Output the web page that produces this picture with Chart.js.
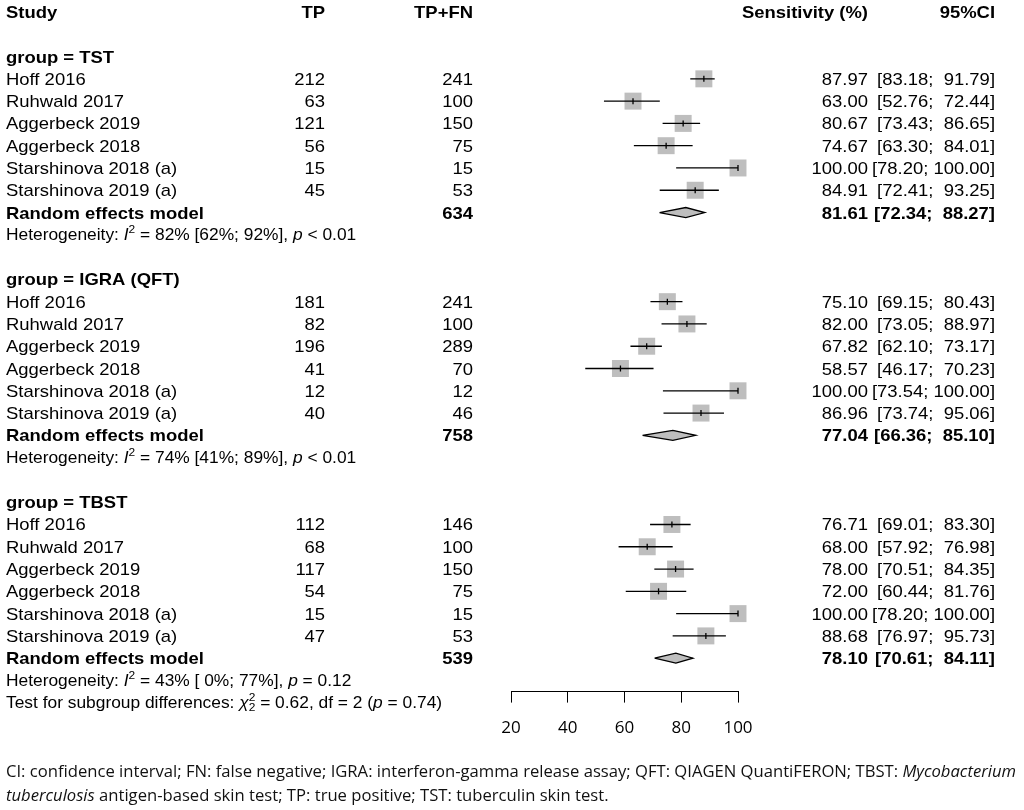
<!DOCTYPE html>
<html>
<head>
<meta charset="utf-8">
<script src="https://cdn.jsdelivr.net/npm/chart.js@4.4.0/dist/chart.umd.min.js"></script>
<style>
  html, body { margin: 0; padding: 0; background: #fff; }
  #wrap { width: 1024px; height: 810px; position: relative; }
</style>
</head>
<body>
<div id="wrap"><canvas id="forest"></canvas></div>
<script>
// ---- data ----
const groups = ["TST", "IGRA (QFT)", "TBST"];
const studies = ["Hoff 2016", "Ruhwald 2017", "Aggerbeck 2019", "Aggerbeck 2018",
  "Starshinova 2018 (a)", "Starshinova 2019 (a)"];
const tp = [[212, 63, 121, 56, 15, 45], [181, 82, 196, 41, 12, 40], [112, 68, 117, 54, 15, 47]];
const total = [[241, 100, 150, 75, 15, 53], [241, 100, 289, 70, 12, 46], [146, 100, 150, 75, 15, 53]];
const sens = [[87.97, 63.00, 80.67, 74.67, 100.00, 84.91],
  [75.10, 82.00, 67.82, 58.57, 100.00, 86.96],
  [76.71, 68.00, 78.00, 72.00, 100.00, 88.68]];
const lower = [[83.18, 52.76, 73.43, 63.30, 78.20, 72.41],
  [69.15, 73.05, 62.10, 46.17, 73.54, 73.74],
  [69.01, 57.92, 70.51, 60.44, 78.20, 76.97]];
const upper = [[91.79, 72.44, 86.65, 84.01, 100.00, 93.25],
  [80.43, 88.97, 73.17, 70.23, 100.00, 95.06],
  [83.30, 76.98, 84.35, 81.76, 100.00, 95.73]];
const pooled = [81.61, 77.04, 78.10];
const pooledLo = [72.34, 66.36, 70.61];
const pooledHi = [88.27, 85.10, 84.11];
const pooledN = [634, 758, 539];
const hetI2 = ["82%", "74%", "43%"];
const hetCI = ["[62%; 92%]", "[41%; 89%]", "[ 0%; 77%]"];
const hetP = ["< 0.01", "< 0.01", "= 0.12"];
const subgroupQ = "0.62", subgroupDf = "2", subgroupP = "0.74";
const xTicks = [20, 40, 60, 80, 100];

// row index of each piece (0 = header line)
const groupRow = g => 2 + 10 * g;
const studyRow = (g, i) => groupRow(g) + 1 + i;
const poolRow = g => groupRow(g) + 7;
const hetRow = g => groupRow(g) + 8;
const testRow = 31;

// ---- datasets ----
const ciLine = [], squares = [], marks = [];
groups.forEach((_, g) => {
  studies.forEach((_, i) => {
    const r = studyRow(g, i);
    ciLine.push({ x: lower[g][i], y: r }, { x: upper[g][i], y: r }, { x: NaN, y: NaN });
    squares.push({ x: sens[g][i], y: r });
    marks.push({ x: sens[g][i], y: r });
  });
});
const DH = 0.225; // diamond half height in rows
const diamonds = groups.map((_, g) => {
  const r = poolRow(g);
  return {
    type: 'line',
    data: [{ x: pooledLo[g], y: r }, { x: pooled[g], y: r - DH }, { x: pooledHi[g], y: r },
      { x: pooled[g], y: r + DH }, { x: pooledLo[g], y: r }],
    borderColor: '#000', borderWidth: 1.3, backgroundColor: '#bebebe',
    fill: 'shape', pointRadius: 0, tension: 0, showLine: true, clip: false
  };
});

// ---- text columns ----
const SX = 1.085;
const F = "\"Liberation Sans\", Arial, sans-serif";
const reg = '17px ' + F, bold = 'bold 17px ' + F;
const hReg = '16px ' + F, hIt = 'italic 16px ' + F, hSup = '11px ' + F;
const COL = { study: 6, tp: 325, n: 473, est: 868, ci: 995 };

function txt(ctx, s, x, y, font, align) {
  ctx.save();
  ctx.font = font;
  ctx.textAlign = align || 'left';
  ctx.textBaseline = 'alphabetic';
  ctx.translate(x, y);
  ctx.scale(SX, 1);
  ctx.fillText(s, 0, 0);
  ctx.restore();
}
function runs(ctx, x, y, parts, sx) {
  parts.forEach(p => {
    ctx.save();
    ctx.font = p.f;
    ctx.textAlign = 'left';
    ctx.textBaseline = 'alphabetic';
    ctx.translate(x, y + (p.dy || 0));
    ctx.scale(sx, 1);
    ctx.fillText(p.t, 0, 0);
    const w = ctx.measureText(p.t).width * sx;
    ctx.restore();
    if (!p.stack) x += w;
  });
}
const ciText = (lo, hi) => '[' + lo.toFixed(2) + '; ' + (hi < 100 ? ' ' : '') + hi.toFixed(2) + ']';

const tablePlugin = {
  id: 'table',
  afterDraw(chart) {
    const ctx = chart.ctx;
    const py = v => chart.scales.y.getPixelForValue(v);
    ctx.fillStyle = '#000';
    const b = 6, hb = 5.6;
    // header
    txt(ctx, 'Study', COL.study, py(0) + b, bold);
    txt(ctx, 'TP', COL.tp, py(0) + b, bold, 'right');
    txt(ctx, 'TP+FN', COL.n, py(0) + b, bold, 'right');
    txt(ctx, 'Sensitivity (%)', COL.est, py(0) + b, bold, 'right');
    txt(ctx, '95%CI', COL.ci, py(0) + b, bold, 'right');
    groups.forEach((name, g) => {
      txt(ctx, 'group = ' + name, COL.study, py(groupRow(g)) + b, bold);
      studies.forEach((s, i) => {
        const y = py(studyRow(g, i)) + b;
        txt(ctx, s, COL.study, y, reg);
        txt(ctx, String(tp[g][i]), COL.tp, y, reg, 'right');
        txt(ctx, String(total[g][i]), COL.n, y, reg, 'right');
        txt(ctx, sens[g][i].toFixed(2), COL.est, y, reg, 'right');
        txt(ctx, ciText(lower[g][i], upper[g][i]), COL.ci, y, reg, 'right');
      });
      const yp = py(poolRow(g)) + b;
      txt(ctx, 'Random effects model', COL.study, yp, bold);
      txt(ctx, String(pooledN[g]), COL.n, yp, bold, 'right');
      txt(ctx, pooled[g].toFixed(2), COL.est, yp, bold, 'right');
      txt(ctx, ciText(pooledLo[g], pooledHi[g]), COL.ci, yp, bold, 'right');
      runs(ctx, COL.study, py(hetRow(g)) + hb, [
        { t: 'Heterogeneity: ', f: hReg }, { t: 'I', f: hIt }, { t: '2', f: hSup, dy: -7 },
        { t: ' = ' + hetI2[g] + ' ' + hetCI[g] + ', ', f: hReg }, { t: 'p', f: hIt },
        { t: ' ' + hetP[g], f: hReg }
      ], SX);
    });
    runs(ctx, COL.study, py(testRow) + hb, [
      { t: 'Test for subgroup differences: ', f: hReg }, { t: '\u03c7', f: hIt },
      { t: '2', f: hSup, dy: -7, stack: true }, { t: '2', f: hSup, dy: 3 },
      { t: ' = ' + subgroupQ + ', df = ' + subgroupDf + ' (', f: hReg }, { t: 'p', f: hIt },
      { t: ' = ' + subgroupP + ')', f: hReg }
    ], SX);

    // caption under the figure
    const cf = "\"Open Sans\", sans-serif";
    const cReg = '16px ' + cf, cIt = 'italic 16px ' + cf;
    const line1 = [
      { t: 'CI: confidence interval; FN: false negative; IGRA: interferon-gamma release assay; QFT: QIAGEN QuantiFERON; TBST: ', f: cReg },
      { t: 'Mycobacterium', f: cIt }
    ];
    const line2 = [
      { t: 'tuberculosis', f: cIt },
      { t: ' antigen-based skin test; TP: true positive; TST: tuberculin skin test.', f: cReg }
    ];
    let w1 = 0;
    line1.forEach(p => { ctx.font = p.f; w1 += ctx.measureText(p.t).width; });
    const csx = 1010 / w1;
    ctx.fillStyle = '#111';
    runs(ctx, 6, 777, line1, csx);
    runs(ctx, 6, 801, line2, csx);
  }
};

new Chart(document.getElementById('forest'), {
  type: 'scatter',
  data: {
    datasets: [
      { data: marks, pointStyle: 'line', rotation: 90, pointRadius: 3, borderColor: '#000',
        borderWidth: 1.3, clip: false },
      { type: 'line', data: ciLine, borderColor: '#000', borderWidth: 1.3, pointRadius: 0,
        spanGaps: false, showLine: true, clip: false },
      { data: squares, pointStyle: 'rect', pointRadius: 12, backgroundColor: '#bebebe',
        borderWidth: 0, clip: false },
      ...diamonds
    ]
  },
  options: {
    responsive: true,
    maintainAspectRatio: false,
    animation: false,
    events: [],
    layout: { padding: { left: 511, right: 286, top: 11, bottom: 57 } },
    plugins: { legend: { display: false }, tooltip: { enabled: false } },
    scales: {
      x: {
        type: 'linear', min: 20, max: 100, position: 'bottom',
        afterBuildTicks: s => { s.ticks = xTicks.map(v => ({ value: v })); },
        grid: { drawOnChartArea: false, drawTicks: true, tickLength: 11, color: '#000', lineWidth: 1 },
        border: { display: true, color: '#000', width: 1 },
        ticks: { color: '#000', font: { family: 'Open Sans', size: 17 }, padding: 15,
          maxRotation: 0, autoSkip: false }
      },
      y: { type: 'linear', reverse: true, min: 0, max: 30.5, display: false }
    }
  },
  plugins: [tablePlugin]
});
</script>
</body>
</html>
